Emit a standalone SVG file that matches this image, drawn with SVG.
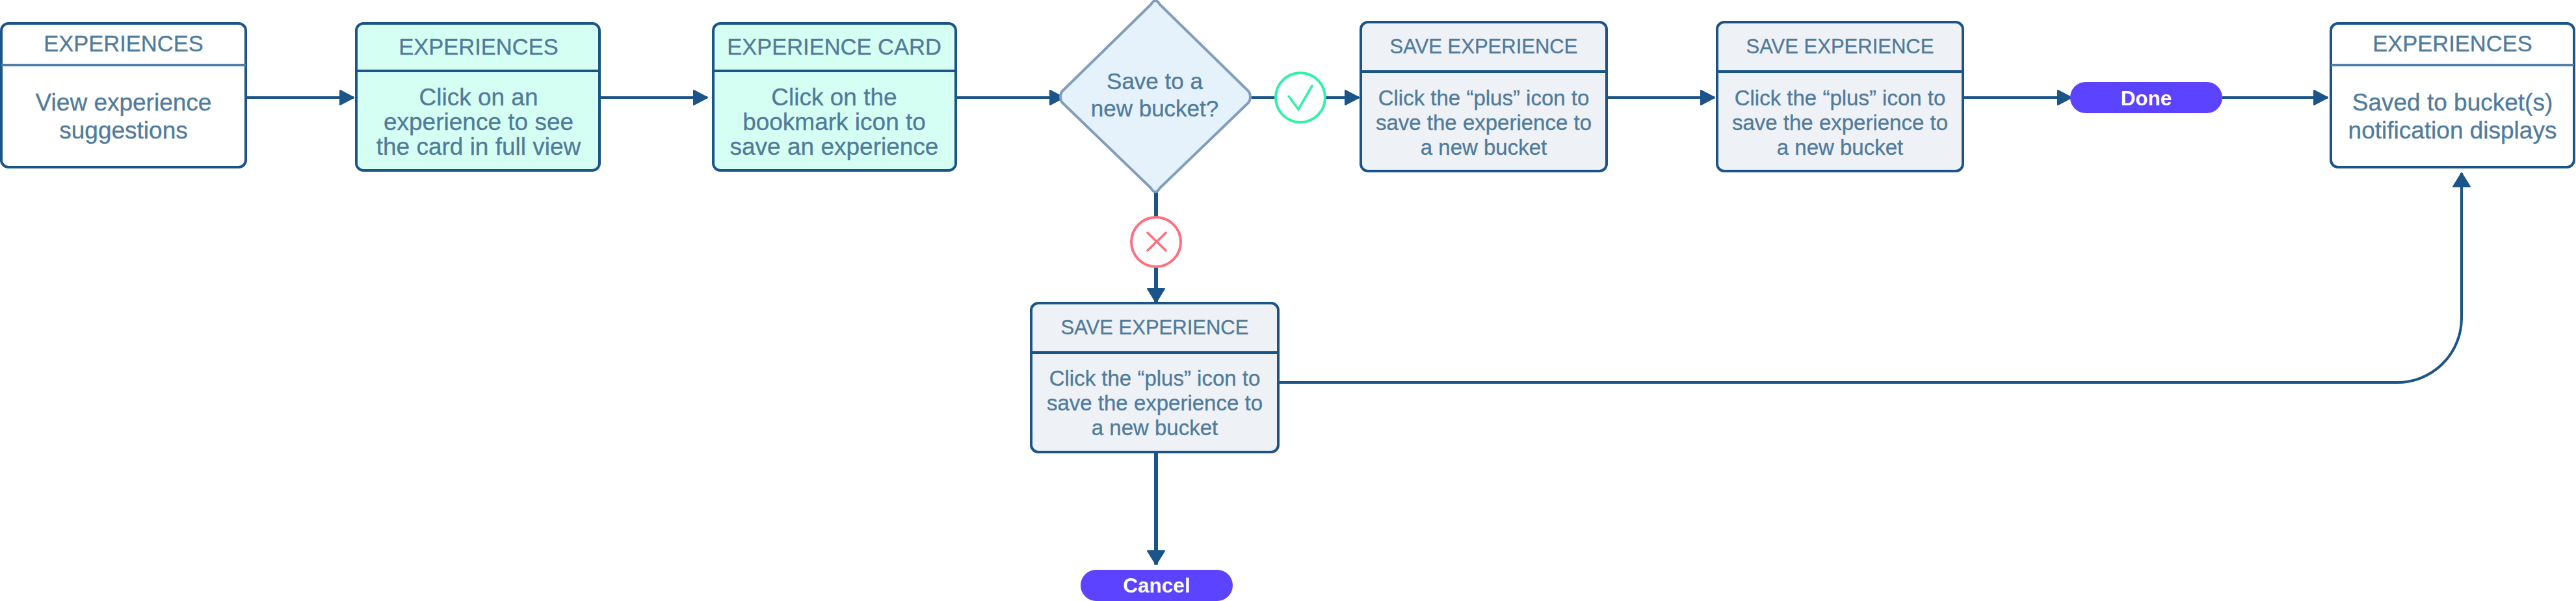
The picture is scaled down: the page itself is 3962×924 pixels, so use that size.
<svg xmlns="http://www.w3.org/2000/svg" width="3962" height="924" viewBox="0 0 3962 924">
<style>
text{font-family:"Liberation Sans",Arial,sans-serif;text-anchor:middle;fill:#507b9b;stroke:#507b9b;stroke-width:.35}
.box{stroke:#1b5488;stroke-width:4}
.div{stroke:#1b5488;stroke-width:4}
.divl{stroke:#4f7fa8;stroke-width:4}
.w{fill:#fff}.m{fill:#d6fff4}.g{fill:#eef1f5}
.c{fill:none;stroke:#1b5488;stroke-width:4}
.v{stroke-width:6}
.t34{font-size:34.5px}.t31{font-size:31px}.b36{font-size:37px}.b33{font-size:33px}.d{font-size:35px}
text.p{font-size:31.5px;font-weight:700;fill:#fff;stroke:none}
.ic{fill:#fff;stroke-width:4}
.ck{fill:none;stroke-width:3.5;stroke-linecap:round}
</style>
<defs>
<marker id="a" markerUnits="userSpaceOnUse" markerWidth="26" markerHeight="28" refX="23" refY="14" orient="auto"><path d="M2 3L23 14L2 25Z" fill="#1b5488" stroke="#1b5488" stroke-width="2" stroke-linejoin="round"/></marker>
<marker id="b" markerUnits="userSpaceOnUse" markerWidth="26" markerHeight="32" refX="23" refY="16" orient="auto"><path d="M2 3L23 16L2 29Z" fill="#1b5488" stroke="#1b5488" stroke-width="2" stroke-linejoin="round"/></marker>
</defs>
<g id="connectors">
<path class="c" d="M380 150H544" marker-end="url(#a)"/>
<path class="c" d="M923 150H1088" marker-end="url(#a)"/>
<path class="c" d="M1472 150H1636" marker-end="url(#a)"/>
<path class="c" d="M1918 150H2090" marker-end="url(#a)"/>
<path class="c" d="M2473 150H2637" marker-end="url(#a)"/>
<path class="c" d="M3021 150H3186" marker-end="url(#a)"/>
<path class="c" d="M3418 150H3580" marker-end="url(#a)"/>
<path class="c v" d="M1778 296V465" marker-end="url(#b)"/>
<path class="c v" d="M1778 697V868" marker-end="url(#b)"/>
<path class="c" d="M1968 588H3687A99 99 0 0 0 3786 489V266" marker-end="url(#b)"/>
</g>
<g id="n1"><rect class="box w" x="2" y="36" width="376" height="221" rx="11"/><path class="divl" d="M2 100H378"/><text class="t34" x="190" y="79">EXPERIENCES</text><text class="b36" x="190" y="170">View experience</text><text class="b36" x="190" y="213">suggestions</text></g>
<g id="n2"><rect class="box m" x="548" y="36" width="374" height="226" rx="11"/><path class="div" d="M548 109H922"/><text class="t34" x="736" y="84">EXPERIENCES</text><text class="b36" x="736" y="162">Click on an</text><text class="b36" x="736" y="200">experience to see</text><text class="b36" x="736" y="238">the card in full view</text></g>
<g id="n3"><rect class="box m" x="1097" y="36" width="373" height="226" rx="11"/><path class="div" d="M1097 109H1470"/><text class="t34" x="1283" y="84">EXPERIENCE CARD</text><text class="b36" x="1283" y="162">Click on the</text><text class="b36" x="1283" y="200">bookmark icon to</text><text class="b36" x="1283" y="238">save an experience</text></g>
<g id="decision"><path d="M1770 7Q1777 -5 1784 7L1921 141Q1925 149 1921 157L1784 289Q1777 301 1770 289L1633 157Q1629 149 1633 141Z" fill="#e5f2fc" stroke="#819dbc" stroke-width="4" stroke-linejoin="round"/><text class="d" x="1776" y="137">Save to a</text><text class="d" x="1776" y="179">new bucket?</text></g>
<g id="yes"><circle class="ic" cx="2000" cy="150" r="38" stroke="#2ef2a4"/><path class="ck" stroke="#2ef2a4" d="M1982 148L1997 168L2018 132"/></g>
<g id="no"><circle class="ic" cx="1778" cy="372" r="38" stroke="#ff6f7d"/><path class="ck" stroke="#ff6f7d" d="M1765 358L1793 385M1793 358L1765 385"/></g>
<g id="n4"><rect class="box g" x="2093" y="34" width="378" height="229" rx="11"/><path class="div" d="M2093 110H2471"/><text class="t31" x="2282" y="82">SAVE EXPERIENCE</text><text class="b33" x="2282" y="162">Click the “plus” icon to</text><text class="b33" x="2282" y="200">save the experience to</text><text class="b33" x="2282" y="238">a new bucket</text></g>
<g id="n5"><rect class="box g" x="2641" y="34" width="378" height="229" rx="11"/><path class="div" d="M2641 110H3019"/><text class="t31" x="2830" y="82">SAVE EXPERIENCE</text><text class="b33" x="2830" y="162">Click the “plus” icon to</text><text class="b33" x="2830" y="200">save the experience to</text><text class="b33" x="2830" y="238">a new bucket</text></g>
<g id="done"><rect x="3184" y="126" width="234" height="48" rx="24" fill="#5b43ff"/><text class="p" x="3301" y="162">Done</text></g>
<g id="n6"><rect class="box w" x="3585" y="36" width="374" height="221" rx="11"/><path class="divl" d="M3585 100H3959"/><text class="t34" x="3772" y="79">EXPERIENCES</text><text class="b36" x="3772" y="170">Saved to bucket(s)</text><text class="b36" x="3772" y="213">notification displays</text></g>
<g id="n7"><rect class="box g" x="1586" y="466" width="380" height="229" rx="11"/><path class="div" d="M1586 542H1966"/><text class="t31" x="1776" y="514">SAVE EXPERIENCE</text><text class="b33" x="1776" y="593">Click the “plus” icon to</text><text class="b33" x="1776" y="631">save the experience to</text><text class="b33" x="1776" y="669">a new bucket</text></g>
<g id="cancel"><rect x="1662" y="876" width="234" height="48" rx="24" fill="#5b43ff"/><text class="p" x="1779" y="911">Cancel</text></g>
</svg>
